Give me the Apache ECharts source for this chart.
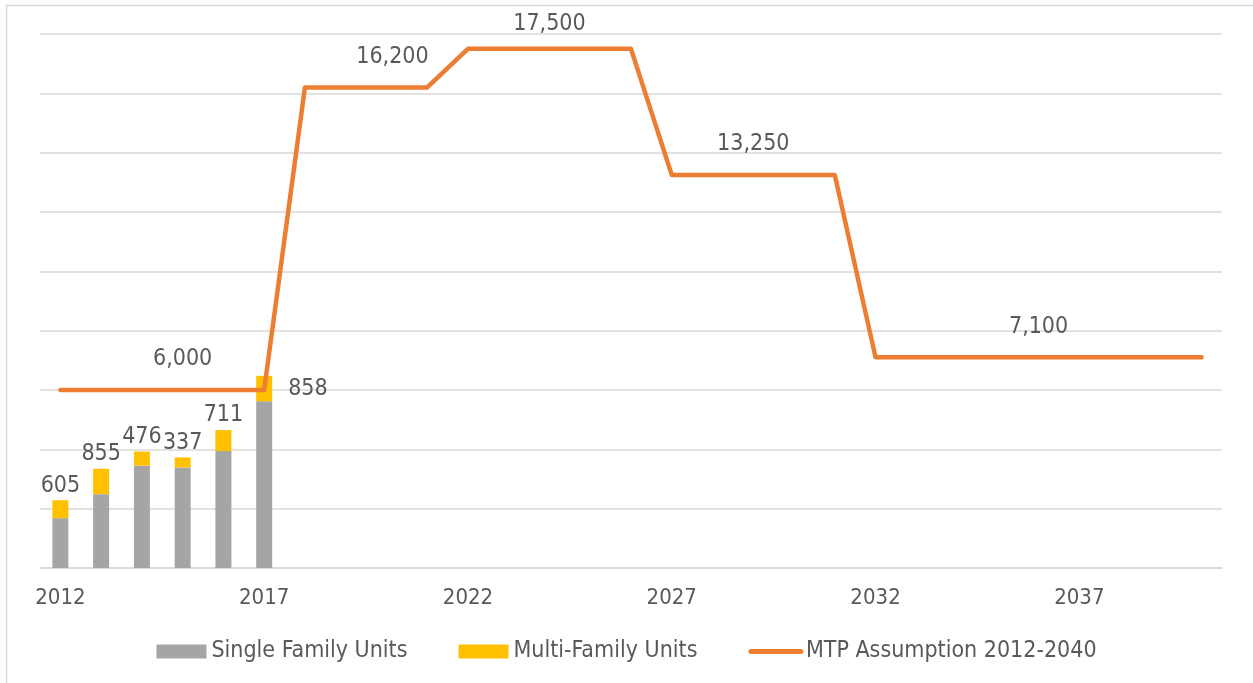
<!DOCTYPE html>
<html lang="en">
<head>
    <meta charset="UTF-8">
    <title>Housing units vs MTP assumption</title>
    <script src="https://cdn.jsdelivr.net/npm/echarts@6/dist/echarts.min.js"></script>
    <style>
        html, body { margin: 0; padding: 0; background: #fff; }
        #chart { width: 1253px; height: 683px; }
    </style>
</head>
<body>
<div id="chart"></div>
<script type="text/javascript">
    // years 2012..2040
    var years = ['2012', '2013', '2014', '2015', '2016', '2017', '2018', '2019', '2020', '2021',
        '2022', '2023', '2024', '2025', '2026', '2027', '2028', '2029', '2030', '2031',
        '2032', '2033', '2034', '2035', '2036', '2037', '2038', '2039', '2040'];

    var singleFamily = [1680, 2490, 3450, 3390, 3940, 5620];
    var multiFamily = [605, 855, 476, 337, 711, 858];

    var mtp = [6000, 6000, 6000, 6000, 6000, 6000,
        16200, 16200, 16200, 16200,
        17500, 17500, 17500, 17500, 17500,
        13250, 13250, 13250, 13250, 13250,
        7100, 7100, 7100, 7100, 7100, 7100, 7100, 7100, 7100];

    // which points of the line get a value label
    var mtpLabelIdx = [3, 8, 12, 17, 24];

    var font = '"DejaVu Sans Condensed", "DejaVu Sans", sans-serif';
    var txt = '#595959';

    var multiData = multiFamily.map(function (v, i) {
        if (i === multiFamily.length - 1) {
            return { value: v, label: { position: 'right', distance: 16 } };
        }
        return v;
    });

    var mtpMarks = mtpLabelIdx.map(function (i) {
        return {
            coord: [i, mtp[i]],
            value: mtp[i],
            label: {
                distance: i === 12 ? 12 : 18,
                offset: i === 8 ? [6, 0] : [0, 0]
            }
        };
    });

    var chart = echarts.init(document.getElementById('chart'));
    chart.setOption({
        animation: false,
        textStyle: { fontFamily: font, color: txt },
        graphic: [{
            type: 'rect',
            shape: { x: 6.5, y: 5.5, width: 1300, height: 720 },
            style: { fill: 'none', stroke: '#D9D9D9', lineWidth: 1.5 },
            silent: true
        }],
        grid: { left: 40, right: 31, top: 34, bottom: 115 },
        legend: {
            top: 635,
            itemWidth: 50,
            itemHeight: 14,
            itemGap: 51,
            textStyle: { fontFamily: font, fontSize: 23, color: txt },
            data: [
                { name: 'Single Family Units', icon: 'rect' },
                { name: 'Multi-Family Units', icon: 'rect' },
                {
                    name: 'MTP Assumption 2012-2040',
                    itemStyle: { opacity: 0 },
                    lineStyle: { width: 5, cap: 'round', color: '#ED7D31' }
                }
            ]
        },
        xAxis: {
            type: 'category',
            data: years,
            boundaryGap: true,
            axisLine: { show: true, lineStyle: { color: '#D9D9D9', width: 1.5 } },
            axisTick: { show: false },
            axisLabel: { interval: 4, margin: 19, fontSize: 22, color: txt, fontFamily: font }
        },
        yAxis: {
            type: 'value',
            min: 0,
            max: 18000,
            interval: 2000,
            axisLabel: { show: false },
            axisLine: { show: false },
            axisTick: { show: false },
            splitLine: { lineStyle: { color: '#D9D9D9', width: 1.5 } }
        },
        series: [
            {
                name: 'Single Family Units',
                type: 'bar',
                stack: 'units',
                barWidth: 16,
                itemStyle: { color: '#A5A5A5' },
                data: singleFamily
            },
            {
                name: 'Multi-Family Units',
                type: 'bar',
                stack: 'units',
                barWidth: 16,
                itemStyle: { color: '#FFC000' },
                label: {
                    show: true,
                    position: 'top',
                    distance: 3,
                    fontSize: 23,
                    color: txt,
                    fontFamily: font
                },
                data: multiData
            },
            {
                name: 'MTP Assumption 2012-2040',
                type: 'line',
                symbol: 'none',
                z: 5,
                lineStyle: { color: '#ED7D31', width: 4.5, cap: 'round', join: 'round' },
                itemStyle: { color: '#ED7D31' },
                markPoint: {
                    symbol: 'circle',
                    symbolSize: 2,
                    silent: true,
                    itemStyle: { color: 'rgba(0,0,0,0)' },
                    label: {
                        show: true,
                        position: 'top',
                        fontSize: 23,
                        color: txt,
                        fontFamily: font,
                        formatter: function (p) { return Number(p.value).toLocaleString('en-US'); }
                    },
                    data: mtpMarks
                },
                data: mtp
            }
        ]
    });
</script>
</body>
</html>
